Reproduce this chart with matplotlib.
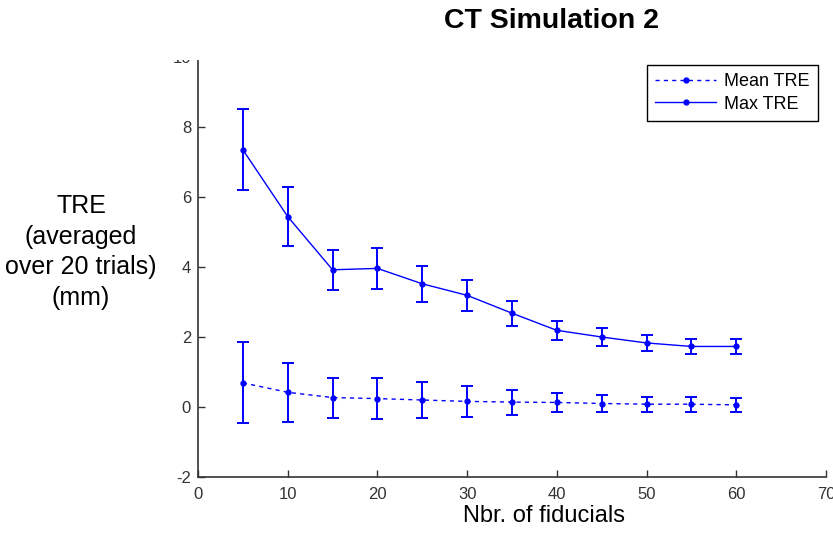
import numpy as np
import matplotlib
matplotlib.use('Agg')
import matplotlib.pyplot as plt
from matplotlib.lines import Line2D
from matplotlib.patches import Rectangle

plt.rcParams['font.family'] = ['Liberation Sans', 'DejaVu Sans']
plt.rcParams['axes.unicode_minus'] = False

n_fid = [5, 10, 15, 20, 25, 30, 35, 40, 45, 50, 55, 60]
mean_tre = [0.69, 0.42, 0.27, 0.24, 0.20, 0.16, 0.14, 0.13, 0.10, 0.08, 0.08, 0.06]
max_tre = [7.35, 5.44, 3.92, 3.96, 3.52, 3.19, 2.68, 2.19, 2.00, 1.83, 1.73, 1.73]
tre_std = [1.16, 0.84, 0.57, 0.59, 0.52, 0.44, 0.36, 0.28, 0.25, 0.22, 0.21, 0.21]

blue = '#0000ff'

fig = plt.figure(figsize=(8.33, 5.33), dpi=100)
ax = fig.add_axes([198/833, 1-477/533, (826-198)/833, (477-57)/533])

ax.errorbar(n_fid, mean_tre, yerr=tre_std, color=blue, ls='--', lw=1.0,
            marker='.', ms=7, elinewidth=1.4, capsize=4.2, capthick=1.4,
            dashes=(3, 3))
ax.errorbar(n_fid, max_tre, yerr=tre_std, color=blue, ls='-', lw=1.0,
            marker='.', ms=7, elinewidth=1.4, capsize=4.2, capthick=1.4)

ax.set_xlim(0, 70)
ax.set_ylim(-2, 10)
ax.set_xticks(range(0, 71, 10))
ax.set_yticks(range(-2, 11, 2))
ax.spines['top'].set_visible(False)
ax.spines['right'].set_visible(False)
for s in ['left', 'bottom']:
    ax.spines[s].set_color('#333333')
    ax.spines[s].set_linewidth(1.2)
ax.tick_params(direction='in', length=5, width=1.0, labelsize=12,
               colors='#333333', pad=5)
ax.tick_params(axis='x', pad=7)

handles = [Line2D([], [], color=blue, ls='--', lw=1.0, marker='.', ms=7, dashes=(3, 3)),
           Line2D([], [], color=blue, ls='-', lw=1.0, marker='.', ms=7)]
leg = fig.legend(handles, ['Mean TRE', 'Max TRE'], loc='upper right',
                 bbox_to_anchor=(818/833, 1-65/533), fontsize=13,
                 fancybox=False, framealpha=1, edgecolor='black',
                 handlelength=3.4, handletextpad=0.45, borderpad=0.45,
                 labelspacing=0.3, borderaxespad=0)
leg.get_frame().set_linewidth(1.0)

# cover the clipped top of the y axis like the original image
fig.add_artist(Rectangle((0, 1-60/533), 0.4, 60/533, transform=fig.transFigure,
                         facecolor='white', edgecolor='none', zorder=10))

fig.text(552/833, 1-21/533, 'CT Simulation 2', ha='center', va='center',
         fontsize=20.5, fontweight='bold', zorder=11)
fig.text(544/833, 1-516/533, 'Nbr. of fiducials', ha='center', va='center',
         fontsize=17)
fig.text(81/833, 1-252/533, 'TRE\n(averaged\nover 20 trials)\n(mm)',
         ha='center', va='center', fontsize=18, linespacing=1.35)

fig.savefig('out.png', dpi=100)
